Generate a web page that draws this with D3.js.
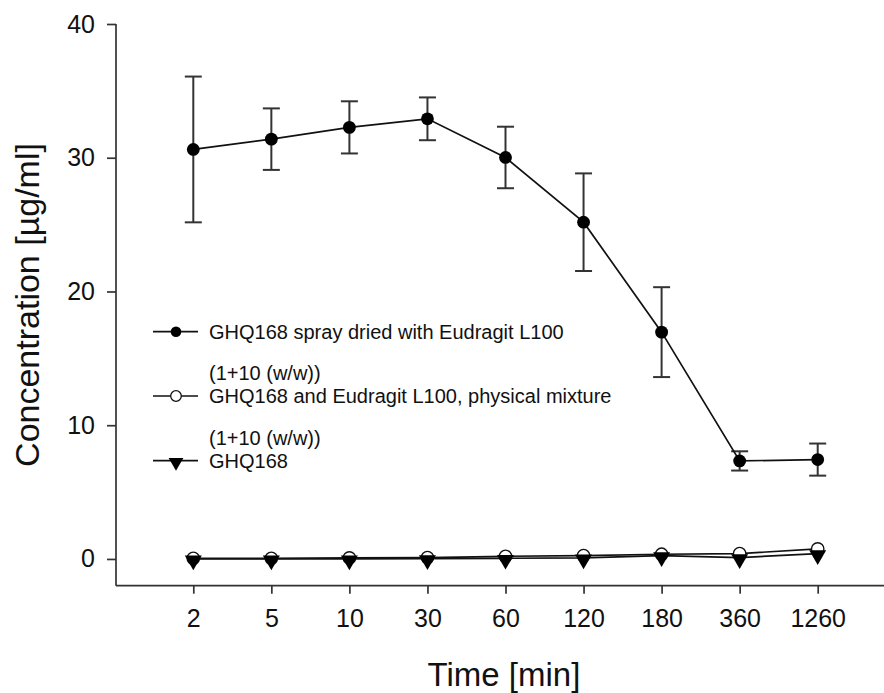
<!DOCTYPE html>
<html>
<head>
<meta charset="utf-8">
<script src="https://cdn.jsdelivr.net/npm/d3@7"></script>
<style>
  html, body { margin: 0; padding: 0; background: #fff; }
  svg { display: block; font-family: "Liberation Sans", Arial, sans-serif; }
</style>
</head>
<body>
<svg id="chart" width="884" height="693"></svg>
<script>
// ---- data ----
const categories = ["2", "5", "10", "30", "60", "120", "180", "360", "1260"];
const sprayDried = [30.62, 31.39, 32.27, 32.91, 30.02, 25.18, 16.96, 7.33, 7.43];
const sprayDriedErr = [5.45, 2.3, 1.95, 1.6, 2.3, 3.65, 3.36, 0.72, 1.2];
const physicalMix = [0.05, 0.05, 0.08, 0.1, 0.2, 0.25, 0.35, 0.4, 0.75];
const pureDrug = [0.0, 0.0, 0.0, 0.02, 0.05, 0.08, 0.25, 0.1, 0.4];
const yTicks = [0, 10, 20, 30, 40];
const legendLabels = [
  "GHQ168 spray dried with Eudragit L100",
  "GHQ168 and Eudragit L100, physical mixture",
  "GHQ168"
];
const legendSub = "(1+10 (w/w))";
const xTitle = "Time [min]";
const yTitle = "Concentration [µg/ml]";

// ---- layout ----
const svg = d3.select("#chart");
const axisLeftX = 116, axisRightX = 884;
const x = d3.scalePoint().domain(categories).range([193.3, 817.7]);
const y = d3.scaleLinear().domain([-2, 40]).range([585.7, 24]);
const axisColor = "#333";

// axes lines
svg.append("line").attr("x1", axisLeftX).attr("x2", axisRightX)
  .attr("y1", y(-2)).attr("y2", y(-2))
  .attr("stroke", axisColor).attr("stroke-width", 1.7);
svg.append("line").attr("x1", axisLeftX).attr("x2", axisLeftX)
  .attr("y1", y(40)).attr("y2", y(-2))
  .attr("stroke", axisColor).attr("stroke-width", 1.7);

// y axis
const gy = svg.append("g").attr("transform", `translate(${axisLeftX},0)`)
  .call(d3.axisLeft(y).tickValues(yTicks).tickSize(9).tickPadding(12).tickFormat(d3.format("d")));
gy.select(".domain").remove();
gy.selectAll(".tick line").attr("stroke", axisColor).attr("stroke-width", 1.7);
gy.selectAll(".tick text").attr("font-size", 25).attr("fill", "#111")
  .attr("font-family", "Liberation Sans, Arial, sans-serif");

// x axis
const gx = svg.append("g").attr("transform", `translate(0,${y(-2)})`)
  .call(d3.axisBottom(x).tickSize(8).tickPadding(16));
gx.select(".domain").remove();
gx.selectAll(".tick line").attr("stroke", axisColor).attr("stroke-width", 1.7);
gx.selectAll(".tick text").attr("font-size", 25).attr("fill", "#111")
  .attr("font-family", "Liberation Sans, Arial, sans-serif");

// titles
svg.append("text").attr("x", 504).attr("y", 686).attr("text-anchor", "middle")
  .attr("font-size", 33).attr("fill", "#111").text(xTitle);
svg.append("text").attr("transform", "translate(39,305) rotate(-90)")
  .attr("text-anchor", "middle").attr("font-size", 34).attr("fill", "#111").text(yTitle);

// lines
const line = d3.line().x((d, i) => x(categories[i])).y(d => y(d));
function drawLine(vals) {
  svg.append("path").datum(vals).attr("d", line)
    .attr("fill", "none").attr("stroke", "#111").attr("stroke-width", 1.7);
}

// error bars for spray dried
const eb = svg.append("g");
sprayDried.forEach((v, i) => {
  const cx = x(categories[i]);
  const e = sprayDriedErr[i];
  const g = eb.append("g").attr("stroke", "#333").attr("stroke-width", 2);
  g.append("line").attr("x1", cx).attr("x2", cx).attr("y1", y(v + e)).attr("y2", y(v - e));
  g.append("line").attr("x1", cx - 8.5).attr("x2", cx + 8.5).attr("y1", y(v + e)).attr("y2", y(v + e));
  g.append("line").attr("x1", cx - 8.5).attr("x2", cx + 8.5).attr("y1", y(v - e)).attr("y2", y(v - e));
});

drawLine(physicalMix);
drawLine(pureDrug);
drawLine(sprayDried);

// markers
function triangleDown(g, cx, cy, size) {
  g.append("path").attr("d", d3.symbol().type(d3.symbolTriangle).size(size)())
    .attr("transform", `translate(${cx},${cy}) rotate(180)`).attr("fill", "#000");
}
physicalMix.forEach((v, i) => {
  svg.append("circle").attr("cx", x(categories[i])).attr("cy", y(v)).attr("r", 6.2)
    .attr("fill", "#fff").attr("stroke", "#111").attr("stroke-width", 1.4);
});
pureDrug.forEach((v, i) => {
  triangleDown(svg, x(categories[i]), y(v) + 1.5, 125);
});
sprayDried.forEach((v, i) => {
  svg.append("circle").attr("cx", x(categories[i])).attr("cy", y(v)).attr("r", 6.4).attr("fill", "#000");
});

// legend
const legX1 = 153, legX2 = 198, legMark = 176, legText = 209;
const legY = [331.7, 396, 460.7];
legendLabels.forEach((lab, i) => {
  const ly = legY[i];
  svg.append("line").attr("x1", legX1).attr("x2", legX2).attr("y1", ly).attr("y2", ly)
    .attr("stroke", "#111").attr("stroke-width", 1.7);
  if (i === 0) {
    svg.append("circle").attr("cx", legMark).attr("cy", ly).attr("r", 5.3).attr("fill", "#000");
  } else if (i === 1) {
    svg.append("circle").attr("cx", legMark).attr("cy", ly).attr("r", 5.3)
      .attr("fill", "#fff").attr("stroke", "#111").attr("stroke-width", 1.3);
  } else {
    triangleDown(svg, legMark, ly + 1.5, 95);
  }
  svg.append("text").attr("x", legText).attr("y", ly).attr("dy", "0.35em")
    .attr("font-size", 20).attr("fill", "#111").text(lab);
  if (i < 2) {
    svg.append("text").attr("x", legText).attr("y", ly + 41.5).attr("dy", "0.35em")
      .attr("font-size", 20).attr("fill", "#111").text(legendSub);
  }
});
</script>
</body>
</html>
